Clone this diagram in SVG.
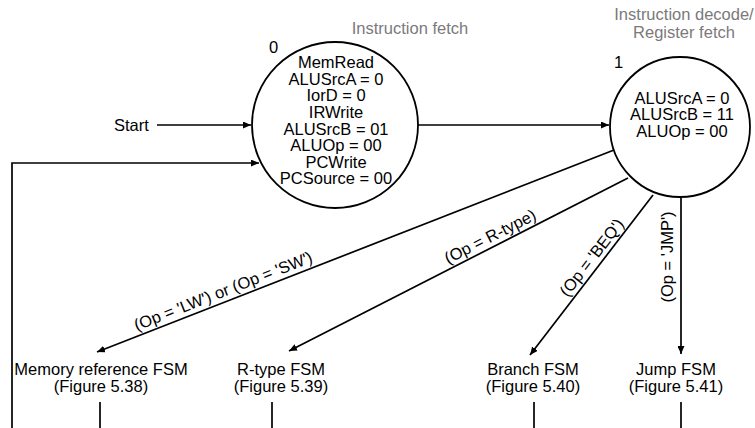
<svg xmlns="http://www.w3.org/2000/svg" width="755" height="428" viewBox="0 0 755 428">
<style>
text{font-family:"Liberation Sans",Arial,sans-serif;font-size:16.5px;fill:#000}
.c{text-anchor:middle}
.g{fill:#7a7a7a}
.st{fill:#fff;stroke:#000;stroke-width:1.8}
.ln{fill:none;stroke:#000;stroke-width:1.7}
</style>
<defs>
<marker id="ah" markerUnits="userSpaceOnUse" markerWidth="8" markerHeight="7" refX="8" refY="3.5" orient="auto">
<path d="M0,0 L8,3.5 L0,7 z" fill="#000"/>
</marker>
</defs>
<g id="connectors">
<line class="ln" x1="157" y1="125" x2="251" y2="125" marker-end="url(#ah)"/>
<polyline class="ln" points="12,428 12,163 259,163" marker-end="url(#ah)"/>
<line class="ln" x1="418" y1="125" x2="609" y2="125" marker-end="url(#ah)"/>
<line class="ln" x1="614" y1="150" x2="97" y2="352" marker-end="url(#ah)"/>
<line class="ln" x1="628" y1="178" x2="289" y2="351" marker-end="url(#ah)"/>
<line class="ln" x1="653" y1="195" x2="530" y2="355" marker-end="url(#ah)"/>
<line class="ln" x1="681" y1="198" x2="681" y2="354" marker-end="url(#ah)"/>
<line class="ln" x1="100" y1="402" x2="100" y2="428"/>
<line class="ln" x1="272" y1="402" x2="272" y2="428"/>
<line class="ln" x1="534" y1="402" x2="534" y2="428"/>
<line class="ln" x1="681" y1="402" x2="681" y2="428"/>
<text class="c" transform="translate(227,301) rotate(-21.4)" y="-5">(Op = 'LW') or (Op = 'SW')</text>
<text class="c" transform="translate(495,246) rotate(-27)" y="-5">(Op = R-type)</text>
<text class="c" transform="translate(600,264) rotate(-52.2)" y="-5">(Op = 'BEQ')</text>
<text class="c" transform="translate(673,257) rotate(-90)">(Op = 'JMP')</text>
</g>
<g id="start">
<text x="114" y="131">Start</text>
</g>
<g id="state0">
<text class="c g" x="410" y="34">Instruction fetch</text>
<circle class="st" cx="335" cy="125" r="83"/>
<text x="269" y="53">0</text>
<text class="c" x="336" y="68.3">MemRead</text>
<text class="c" x="336" y="84.9">ALUSrcA = 0</text>
<text class="c" x="336" y="101.4">IorD = 0</text>
<text class="c" x="336" y="118">IRWrite</text>
<text class="c" x="336" y="134.6">ALUSrcB = 01</text>
<text class="c" x="336" y="151.2">ALUOp = 00</text>
<text class="c" x="336" y="167.7">PCWrite</text>
<text class="c" x="336" y="184.3">PCSource = 00</text>
</g>
<g id="state1">
<text class="c g" x="684" y="20">Instruction decode/</text>
<text class="c g" x="684" y="38">Register fetch</text>
<circle class="st" cx="680" cy="127" r="70"/>
<text x="614" y="68">1</text>
<text class="c" x="682" y="103.5">ALUSrcA = 0</text>
<text class="c" x="682" y="120">ALUSrcB = 11</text>
<text class="c" x="682" y="136.6">ALUOp = 00</text>
</g>
<g id="memfsm">
<text class="c" x="101" y="375">Memory reference FSM</text>
<text class="c" x="101" y="392">(Figure 5.38)</text>
</g>
<g id="rtypefsm">
<text class="c" x="281" y="375">R-type FSM</text>
<text class="c" x="281" y="392">(Figure 5.39)</text>
</g>
<g id="branchfsm">
<text class="c" x="533" y="375">Branch FSM</text>
<text class="c" x="533" y="392">(Figure 5.40)</text>
</g>
<g id="jumpfsm">
<text class="c" x="676" y="375">Jump FSM</text>
<text class="c" x="676" y="392">(Figure 5.41)</text>
</g>
</svg>
